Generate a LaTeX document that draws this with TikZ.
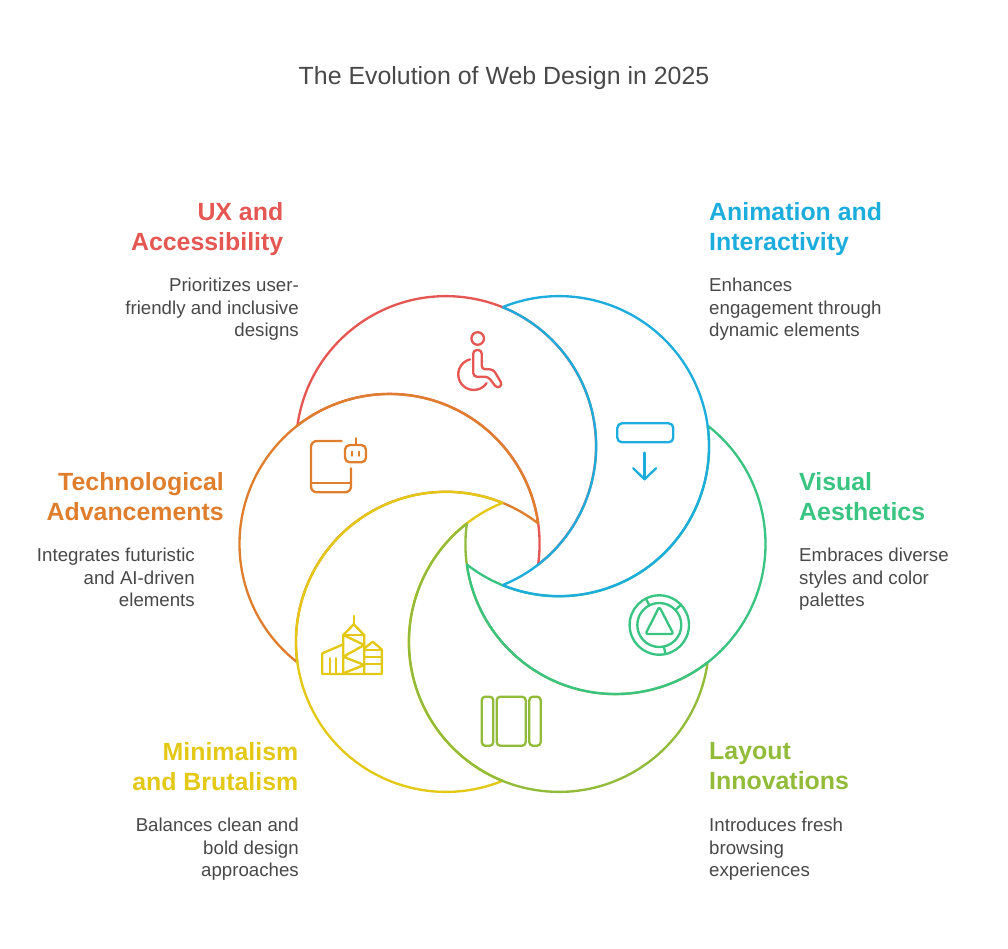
\documentclass[tikz,border=0pt]{standalone}
\usepackage{fontspec}
\setmainfont{Liberation Sans}
\definecolor{uxred}{HTML}{E55753}
\definecolor{animblue}{HTML}{1DADDD}
\definecolor{visgreen}{HTML}{39C481}
\definecolor{laylime}{HTML}{91BB38}
\definecolor{minyellow}{HTML}{E3C815}
\definecolor{techorange}{HTML}{DF7F2E}
\definecolor{textgray}{HTML}{484848}
\tikzset{
  crescent/.style={line width=2pt, line join=round},
  glyph/.style={line width=2pt, line cap=round, line join=round},
  headtext/.style={inner sep=0pt, font=\fontsize{21.25}{25.5}\selectfont\bfseries},
  bodytext/.style={inner sep=0pt, text=textgray, font=\fontsize{15.94}{19.13}\selectfont},
  titletext/.style={inner sep=0pt, text=textgray, font=\fontsize{21.25}{25.5}\selectfont}
}
\begin{document}
\begin{tikzpicture}[x=0.03cm, y=0.03cm, yscale=-1]
    \useasboundingbox (0,0) rectangle (1008,948);

    % Title
    \node[titletext] (title) at (504,78.5) {The Evolution of Web Design in 2025};

    % Crescents, drawn so that each one lies over the one before
    \foreach \ang/\col in {-120/uxred, 180/techorange, 120/minyellow, 60/laylime, 0/visgreen, -60/animblue} {
        \draw[crescent, \col] (502.5,544) ++(\ang:113) ++(\ang-52.1:150)
            arc[start angle=\ang-52.1, delta angle=224.2, radius=150]
            arc[start angle=\ang+127.9, delta angle=-135.8, radius=150];
    }

    % Wheelchair icon
    \draw[glyph, uxred] (477.7,338.5) circle (6.3);
    \draw[glyph, uxred, rounded corners=3] (473.3,350) -- (481.7,350) -- (481.7,369.3) -- (493.3,369.3)
        -- (502.5,385) -- (497,388.5) -- (488.3,376.7) -- (473.3,376.7) -- cycle;
    \draw[glyph, uxred] (470,359.4) arc[start angle=256, end angle=34, radius=15.5];

    % Tablet and robot icon
    \draw[glyph, techorange, rounded corners=5] (341.7,441) -- (311,441) -- (311,492.3) -- (351,492.3) -- (351,468.3);
    \draw[glyph, techorange] (311,483.3) -- (351,483.3);
    \draw[glyph, techorange, rounded corners=4] (345,445) rectangle (366,462.3);
    \draw[glyph, techorange] (355.7,438.3) -- (355.7,445);
    \draw[glyph, techorange] (352.3,451.7) -- (352.3,455.7);
    \draw[glyph, techorange] (359.3,451.7) -- (359.3,455.7);

    % Buildings icon
    \draw[glyph, minyellow] (353.7,616) -- (353.7,624.3);
    \draw[glyph, minyellow] (343.3,673.3) -- (343.3,635) -- (353.7,624.3) -- (364.3,635) -- (364.3,673.3);
    \draw[glyph, minyellow] (343.3,635) -- (364.3,635);
    \draw[glyph, minyellow] (343.3,635) -- (364.3,645) -- (343.3,656.7) -- (364.3,665) -- (343.3,673.3);
    \draw[glyph, minyellow] (343.3,644.3) -- (322.3,653.3) -- (322.3,674) -- (381.7,674) -- (381.7,649.3)
        -- (372.7,641.7) -- (364.3,648.5);
    \draw[glyph, minyellow] (330,658.3) -- (330,674);
    \draw[glyph, minyellow] (336,658.3) -- (336,674);
    \foreach \ya in {649.8,656.7,664.3} {
        \draw[glyph, minyellow] (364.3,\ya) -- (381.7,\ya);
    }

    % Triangle in rings icon
    \draw[glyph, visgreen] (659.3,625) circle (29.7);
    \draw[glyph, visgreen] (659.3,625) circle (22);
    \foreach \tick in {-117,-43,78} {
        \draw[glyph, visgreen] (659.3,625) ++(\tick:22) -- ++(\tick:7.7);
    }
    \draw[glyph, visgreen, rounded corners=2] (659.3,606.7) -- (673.5,634) -- (645.5,634) -- cycle;

    % Panel and arrow icon
    \draw[glyph, animblue, rounded corners=4] (617.3,423.3) rectangle (673.3,442.3);
    \draw[glyph, animblue] (644.5,452.7) -- (644.5,479.3);
    \draw[glyph, animblue] (633.3,468.3) -- (644.5,479.3) -- (656,468.3);

    % Columns icon
    \draw[glyph, laylime, rounded corners=3] (481.7,696.7) rectangle (493.3,745.7);
    \draw[glyph, laylime, rounded corners=3] (496.7,696.7) rectangle (525.7,745.7);
    \draw[glyph, laylime, rounded corners=3] (529.3,696.7) rectangle (540.7,745.7);

    % Labels on the left
    \node[headtext, uxred, align=right, anchor=north east] (uxhead) at (283.5,202.5) {UX and\\Accessibility};
    \node[bodytext, align=right, anchor=north east] (uxbody) at (299,278.2) {Prioritizes user-\\friendly and inclusive\\designs};
    \node[headtext, techorange, align=right, anchor=north east] (techhead) at (224,472.5) {Technological\\Advancements};
    \node[bodytext, align=right, anchor=north east] (techbody) at (195,548.2) {Integrates futuristic\\and AI-driven\\elements};
    \node[headtext, minyellow, align=right, anchor=north east] (minhead) at (298.5,742.5) {Minimalism\\and Brutalism};
    \node[bodytext, align=right, anchor=north east] (minbody) at (299,818.2) {Balances clean and\\bold design\\approaches};

    % Labels on the right
    \node[headtext, animblue, align=left, anchor=north west] (animhead) at (709,202.5) {Animation and\\Interactivity};
    \node[bodytext, align=left, anchor=north west] (animbody) at (709,278.2) {Enhances\\engagement through\\dynamic elements};
    \node[headtext, visgreen, align=left, anchor=north west] (vishead) at (799,472.5) {Visual\\Aesthetics};
    \node[bodytext, align=left, anchor=north west] (visbody) at (799,548.2) {Embraces diverse\\styles and color\\palettes};
    \node[headtext, laylime, align=left, anchor=north west] (layhead) at (709,742.5) {Layout\\Innovations};
    \node[bodytext, align=left, anchor=north west] (laybody) at (709,818.2) {Introduces fresh\\browsing\\experiences};
\end{tikzpicture}
\end{document}
